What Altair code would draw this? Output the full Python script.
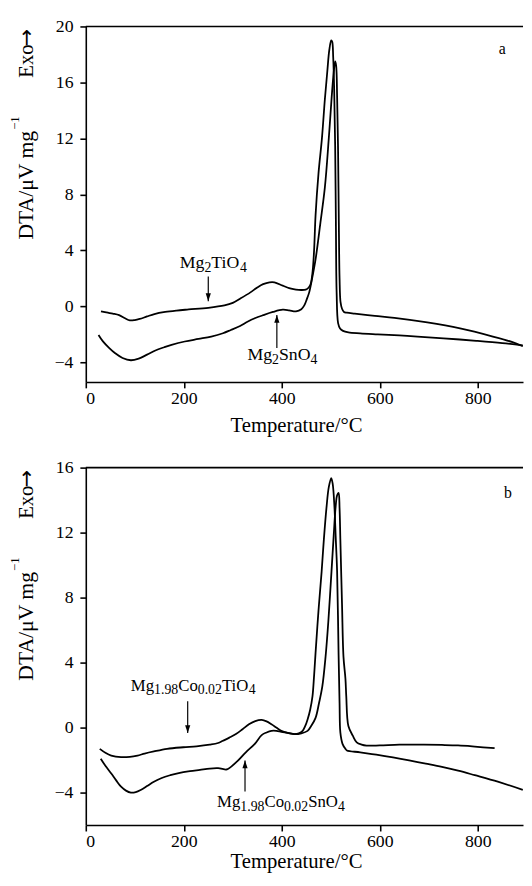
import altair as alt
import pandas as pd

FONT = "Liberation Serif"

# ---------------- data ----------------
x_ticks = [0, 200, 400, 600, 800]
a_y_ticks = [-4, 0, 4, 8, 12, 16, 20]
b_y_ticks = [-4, 0, 4, 8, 12, 16]

# Panel a : Mg2TiO4
a_ti_T = [31, 45, 55, 68, 80, 90, 100, 110, 125, 140, 162, 185, 210, 250, 283, 300, 315, 336, 350, 362,
          375, 385, 402, 415, 429, 440, 449, 455, 459, 463, 466, 469, 475, 482, 488, 493, 497, 501, 503,
          505, 507, 509, 510.5, 512, 515, 519, 525, 536, 560, 596, 640, 677, 730, 797, 850, 892]
a_ti_V = [-0.35, -0.45, -0.52, -0.63, -0.85, -1.0, -0.98, -0.9, -0.72, -0.55, -0.4, -0.3, -0.22, -0.1, 0.07,
          0.25, 0.55, 1.0, 1.35, 1.59, 1.72, 1.72, 1.48, 1.3, 1.2, 1.17, 1.2, 1.35, 1.6, 2.5, 4.0, 6.5, 9.5,
          12.0, 14.8, 16.8, 18.3, 19.0, 18.9, 17.8, 15.5, 11.5, 6.0, 1.0, -1.2, -1.58, -1.75, -1.86, -1.93,
          -2.0, -2.08, -2.16, -2.28, -2.46, -2.62, -2.78]
# Panel a : Mg2SnO4
a_sn_T = [26, 35, 48, 60, 75, 92, 108, 125, 142, 160, 175, 202, 230, 256, 280, 296, 315, 330, 345, 362,
          382, 402, 415, 429, 440, 446, 451, 456, 462, 469, 479, 488, 496, 502, 506, 509, 511, 513, 515,
          516.5, 518, 520, 523, 527, 533, 549, 590, 630, 697, 764, 831, 871, 892]
a_sn_V = [-2.04, -2.5, -2.98, -3.35, -3.69, -3.85, -3.73, -3.45, -3.15, -2.92, -2.75, -2.51, -2.33, -2.16,
          -1.92, -1.69, -1.4, -1.1, -0.85, -0.63, -0.4, -0.24, -0.28, -0.35, -0.2, 0.07, 0.5, 1.0, 2.0, 3.35,
          6.0, 8.5, 12.0, 15.0, 16.7, 17.5, 17.2, 15.0, 11.0, 6.0, 2.0, 0.3, -0.17, -0.4, -0.45, -0.52,
          -0.68, -0.82, -1.15, -1.58, -2.16, -2.56, -2.85]

# Panel b : Mg1.98Co0.02TiO4
b_ti_T = [28.5, 40, 52, 72, 90, 105.5, 120, 139, 166, 199, 226, 253, 270, 280, 293, 306.5, 320, 333, 346,
          359, 369, 379, 389, 399, 412, 426, 435, 442.6, 448, 452.7, 458, 462.7, 466, 469, 475, 481.4, 486,
          491.5, 496, 501, 504, 507.5, 510, 513, 516, 518, 519.6, 524, 530, 533, 560, 593, 627, 660, 694,
          727, 760, 794, 841, 892]
b_ti_V = [-1.31, -1.55, -1.72, -1.82, -1.8, -1.72, -1.6, -1.47, -1.31, -1.21, -1.15, -1.05, -0.95, -0.81,
          -0.62, -0.4, -0.1, 0.2, 0.4, 0.47, 0.38, 0.2, 0.0, -0.2, -0.33, -0.4, -0.35, -0.2, 0.1, 0.5, 1.1,
          1.92, 3.2, 4.6, 7.2, 9.6, 11.6, 13.6, 14.8, 15.36, 15.0, 13.6, 11.8, 9.6, 4.5, 1.5, -0.3, -1.0,
          -1.31, -1.41, -1.52, -1.67, -1.84, -2.02, -2.22, -2.42, -2.65, -2.93, -3.33, -3.83]
# Panel b : Mg1.98Co0.02SnO4
b_sn_T = [30.5, 40, 52, 62, 72, 82, 92, 102, 112, 125, 139, 155, 172.5, 192, 212.7, 233, 253, 270, 286.4,
          290, 310, 326.6, 345, 359, 369, 379, 389, 399, 412, 426, 440, 452.7, 460, 469, 476, 482.8,
          489.4, 495, 501.5, 506, 510, 513, 516, 518, 519.6, 523, 526, 530, 531.7, 536, 545, 553, 563, 573,
          600, 640, 690, 727, 760, 794, 834.5]
b_sn_V = [-1.92, -2.35, -2.83, -3.25, -3.64, -3.88, -4.0, -3.97, -3.84, -3.6, -3.33, -3.1, -2.93, -2.78,
          -2.68, -2.6, -2.52, -2.5, -2.58, -2.55, -2.05, -1.52, -1.0, -0.46, -0.3, -0.2, -0.2, -0.26, -0.33,
          -0.4, -0.35, -0.2, 0.1, 0.6, 1.5, 2.53, 4.35, 6.5, 9.6, 11.8, 13.6, 14.3, 14.45, 13.5, 11.6, 7.6,
          4.35, 3.0, 1.92, 0.1, -0.5, -0.91, -1.05, -1.11, -1.1, -1.05, -1.05, -1.07, -1.1, -1.17, -1.27]

# annotation labels: (T, V at baseline, [(text, is_subscript), ...])
a_labels = [(192, 2.77, [("Mg", 0), ("2", 1), ("TiO", 0), ("4", 1)]),
            (330, -3.85, [("Mg", 0), ("2", 1), ("SnO", 0), ("4", 1)])]
b_labels = [(92, 2.28, [("Mg", 0), ("1.98", 1), ("Co", 0), ("0.02", 1), ("TiO", 0), ("4", 1)]),
            (268, -4.87, [("Mg", 0), ("1.98", 1), ("Co", 0), ("0.02", 1), ("SnO", 0), ("4", 1)])]
# arrows: (T, V tail, V tip)
a_arrows = [(250, 2.13, 0.37), (390, -2.98, -0.61)]
b_arrows = [(208, 1.62, -0.34), (325, -3.94, -2.02)]

# ---------------- helpers ----------------
WIDTHS = {"M": 889, "g": 500, "T": 611, "i": 278, "O": 722, "S": 556, "n": 500, "C": 667, "o": 500,
          ".": 250}


def text_width(s, size):
    return sum(WIDTHS.get(c, 500) for c in s) * size / 1000.0


PX_PER_UNIT = 0.4975
W = 444
XDOM = [0, W / PX_PER_UNIT]
ONE = pd.DataFrame({"k": [0]})


def make_panel(curves, ydom, yticks, H, letter, letter_pos, labels, arrows, fmain, fsub,
               top_ext, bottom_ext, title_y):
    x_enc = alt.X("T:Q", scale=alt.Scale(domain=XDOM, nice=False, zero=False),
                  axis=alt.Axis(values=x_ticks, title="Temperature/°C", titleX=213.5, titleY=title_y,
                                titleBaseline="alphabetic", titleAlign="center", labelPadding=2,
                                labelFont=FONT, titleFont=FONT, format="d"))
    y_enc = alt.Y("V:Q", scale=alt.Scale(domain=ydom, nice=False, zero=False),
                  axis=alt.Axis(values=yticks, title=None, labelPadding=7, labelFont=FONT,
                                format="d"))
    rows = []
    for name, (Ts, Vs) in curves.items():
        for i, (t, v) in enumerate(zip(Ts, Vs)):
            rows.append(dict(s=name, i=i, T=t, V=v))
    layers = [alt.Chart(pd.DataFrame(rows)).mark_line(
        color="black", strokeWidth=1.8, clip=True, interpolate="catmull-rom").encode(
        x=x_enc, y=y_enc, detail="s:N", order="i:Q")]

    # arrows
    for (t, v0, v1) in arrows:
        df = pd.DataFrame({"T": [t], "V": [v0], "V2": [v1]})
        layers.append(alt.Chart(df).mark_rule(color="black", strokeWidth=1.2).encode(
            x=x_enc, y=y_enc, y2="V2:Q"))
        if v1 < v0:
            path = "M-0.33,-1L0.33,-1L0,0Z"
        else:
            path = "M-0.33,1L0.33,1L0,0Z"
        dfh = pd.DataFrame({"T": [t], "V": [v1]})
        layers.append(alt.Chart(dfh).mark_point(shape=path, size=256, filled=True, color="black",
                                                opacity=1, strokeWidth=0).encode(x=x_enc, y=y_enc))

    # chemical formula labels
    for (t, v, parts) in labels:
        off = 0.0
        dfl = pd.DataFrame({"T": [t], "V": [v]})
        for (txt, sub) in parts:
            size = fsub if sub else fmain
            layers.append(alt.Chart(dfl).mark_text(
                text=txt, align="left", baseline="alphabetic", font=FONT, fontSize=size,
                color="black", dx=off, dy=4 if sub else 0).encode(x=x_enc, y=y_enc))
            off += text_width(txt, size)

    # y-axis title pieces
    layers.append(alt.Chart(ONE).mark_text(
        text="Exo", angle=270, align="left", baseline="alphabetic", font=FONT, fontSize=21,
        color="black").encode(x=alt.value(-53.5), y=alt.value(52)))
    layers.append(alt.Chart(ONE).mark_text(
        text="→", angle=270, align="left", baseline="alphabetic", font="DejaVu Sans", fontSize=21,
        color="black").encode(x=alt.value(-53.5), y=alt.value(20)))
    layers.append(alt.Chart(ONE).mark_text(
        text="DTA/μV mg", angle=270, align="right", baseline="alphabetic", font=FONT, fontSize=22,
        color="black").encode(x=alt.value(-53.5), y=alt.value(106)))
    layers.append(alt.Chart(ONE).mark_text(
        text="−1", angle=270, align="left", baseline="alphabetic", font=FONT, fontSize=13,
        color="black").encode(x=alt.value(-67.5), y=alt.value(105)))

    # panel letter
    layers.append(alt.Chart(ONE).mark_text(
        text=letter, align="center", baseline="middle", font=FONT, fontSize=16,
        color="black").encode(x=alt.value(letter_pos[0]), y=alt.value(letter_pos[1])))

    # top frame line
    layers.append(alt.Chart(ONE).mark_rule(color="black", strokeWidth=1.6).encode(
        x=alt.value(0), x2=alt.value(W), y=alt.value(0)))

    # invisible extent guide (fixes panel placement)
    layers.append(alt.Chart(ONE).mark_rule(opacity=0, strokeOpacity=0).encode(
        x=alt.value(-78.5), y=alt.value(top_ext), y2=alt.value(bottom_ext)))

    return alt.layer(*layers).properties(width=W, height=H)


panel_a = make_panel({"Mg2TiO4": (a_ti_T, a_ti_V), "Mg2SnO4": (a_sn_T, a_sn_V)},
                     [-5.4, 20], a_y_ticks, 361, "a", (422.8, 23.3), a_labels, a_arrows, 18, 14,
                     -12, 422.7, 50)
panel_b = make_panel({"Mg1.98Co0.02TiO4": (b_ti_T, b_ti_V), "Mg1.98Co0.02SnO4": (b_sn_T, b_sn_V)},
                     [-6, 16], b_y_ticks, 363, "b", (428.8, 25.6), b_labels, b_arrows, 17, 14,
                     -25, 363, 43)

chart = alt.vconcat(panel_a, panel_b, spacing=0).properties(padding=0).configure_view(
    stroke=None).configure_axis(
    domainColor="black", domainWidth=1.6, tickColor="black", tickWidth=1.6, tickSize=6,
    labelFont=FONT, labelFontSize=18, labelColor="black", titleFont=FONT, titleFontSize=21,
    titleFontWeight="normal", titleColor="black", grid=False)

chart.save("out.html", embed_options={"renderer": "svg", "actions": False})
